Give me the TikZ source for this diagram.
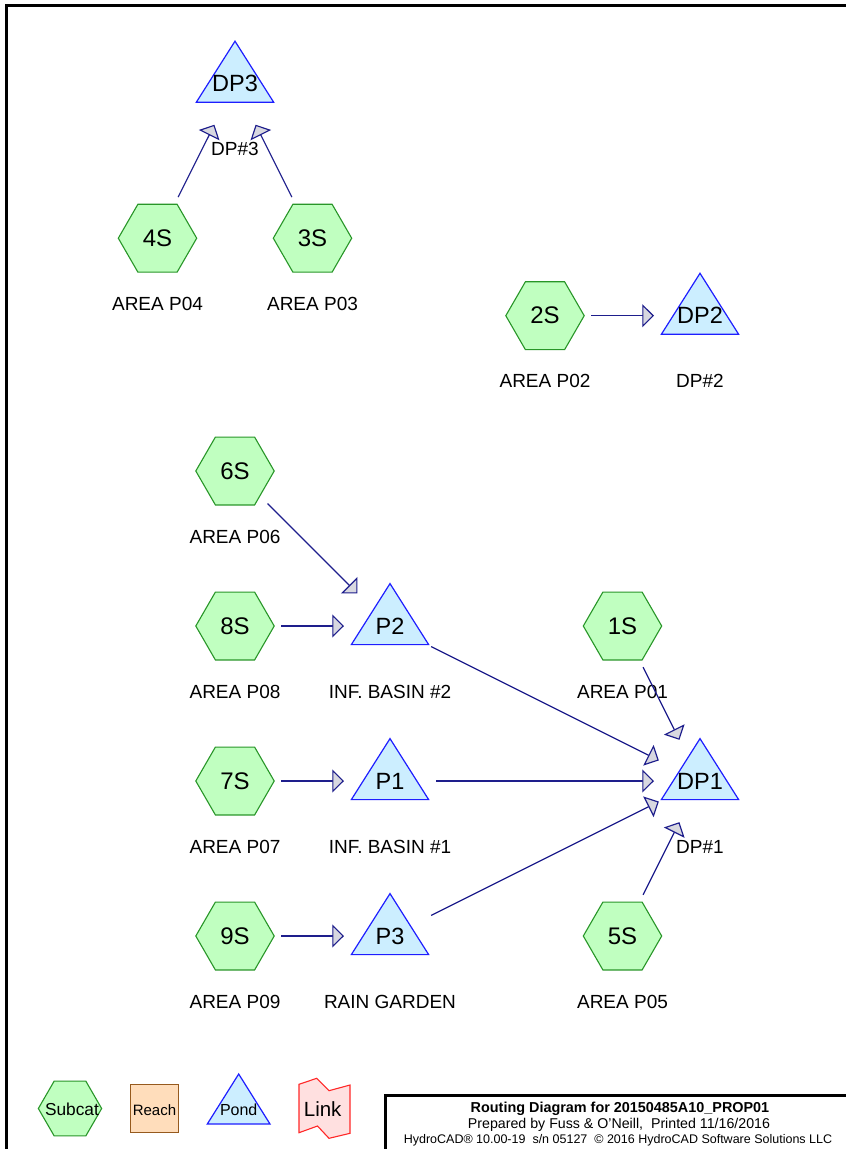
\documentclass[tikz,border=0pt]{standalone}
\usepackage{fontspec}
\setmainfont{Liberation Sans}
\usetikzlibrary{arrows.meta,shapes.geometric}
\definecolor{hexfill}{RGB}{192,255,192}
\definecolor{hexdraw}{RGB}{40,150,40}
\definecolor{pondfill}{RGB}{204,238,255}
\definecolor{ponddraw}{RGB}{30,30,255}
\definecolor{reachfill}{RGB}{255,221,187}
\definecolor{reachdraw}{RGB}{150,90,30}
\definecolor{linkfill}{RGB}{255,224,224}
\definecolor{linkdraw}{RGB}{255,40,40}
\definecolor{flowcol}{RGB}{30,30,140}
\definecolor{tipfill}{RGB}{216,216,224}
\tikzset{
  hex/.style={regular polygon, regular polygon sides=6, minimum size=78.4pt,
    inner sep=0pt, outer sep=0pt, fill=hexfill, draw=hexdraw, line width=1.1pt,
    font=\fontsize{24}{28}\selectfont},
  pondshape/.style={fill=pondfill, draw=ponddraw, line width=1.2pt, line join=miter},
  pondtxt/.style={inner sep=0pt, font=\fontsize{23.5}{27}\selectfont},
  lbl/.style={anchor=base, inner sep=0pt, font=\fontsize{19}{22}\selectfont},
  flow/.style={draw=flowcol, line width=1.15pt, shorten <=46pt, shorten >=46pt,
    -{Triangle[length=11.7pt, width=23pt, fill=tipfill]}},
  pondtri/.pic={\draw[pondshape] (-38.65,18.6) -- (0,-42.4) -- (38.65,18.6) -- cycle;},
  frameline/.style={draw=black, line width=2.7pt},
}
\begin{document}
\begin{tikzpicture}[x=1pt,y=-1pt]
\useasboundingbox (0,0) rectangle (846,1149);
\clip (0,0) rectangle (846,1149);
\fill[white] (0,0) rectangle (846,1149);
% frame
\draw[frameline] (6.3,1160) -- (6.3,5.3) -- (870,5.3);

% subcatchments
\node[hex] (S4) at (157.5,238.2) {4S};
\node[hex] (S3) at (312.5,238.2) {3S};
\node[hex] (S2) at (545,315.7) {2S};
\node[hex] (S6) at (235,471) {6S};
\node[hex] (S8) at (235,626) {8S};
\node[hex] (S1) at (622.5,626) {1S};
\node[hex] (S7) at (235,781) {7S};
\node[hex] (S9) at (235,936) {9S};
\node[hex] (S5) at (622.5,936) {5S};

\node[lbl] (L4) at (157.5,310.2) {AREA P04};
\node[lbl] (L3) at (312.5,310.2) {AREA P03};
\node[lbl] (L2) at (545,387.7) {AREA P02};
\node[lbl] (L6) at (235,543) {AREA P06};
\node[lbl] (L8) at (235,698) {AREA P08};
\node[lbl] (L1) at (622.5,698) {AREA P01};
\node[lbl] (L7) at (235,853) {AREA P07};
\node[lbl] (L9) at (235,1008) {AREA P09};
\node[lbl] (L5) at (622.5,1008) {AREA P05};

% ponds
\pic at (235,83.6) {pondtri};
\node[pondtxt] (DP3) at (235,83.6) {DP3};
\pic at (700,315.7) {pondtri};
\node[pondtxt] (DP2) at (700,315.7) {DP2};
\pic at (390,626) {pondtri};
\node[pondtxt] (P2) at (390,626) {P2};
\pic at (390,781) {pondtri};
\node[pondtxt] (P1) at (390,781) {P1};
\pic at (390,936) {pondtri};
\node[pondtxt] (P3) at (390,936) {P3};
\pic at (700,781) {pondtri};
\node[pondtxt] (DP1) at (700,781) {DP1};

\node[lbl] (LDP3) at (235,155.6) {DP\#3};
\node[lbl] (LDP2) at (700,387.7) {DP\#2};
\node[lbl] (LP2) at (390,698) {INF. BASIN \#2};
\node[lbl] (LP1) at (390,853) {INF. BASIN \#1};
\node[lbl] (LP3) at (390,1008) {RAIN GARDEN};
\node[lbl] (LDP1) at (700,853) {DP\#1};

% connectors
\draw[flow] (S4.center) -- (DP3.center);
\draw[flow] (S3.center) -- (DP3.center);
\draw[flow] (S2.center) -- (DP2.center);
\draw[flow] (S6.center) -- (P2.center);
\draw[flow] (S8.center) -- (P2.center);
\draw[flow] (S7.center) -- (P1.center);
\draw[flow] (S9.center) -- (P3.center);
\draw[flow] (P2.center) -- (DP1.center);
\draw[flow] (P1.center) -- (DP1.center);
\draw[flow] (P3.center) -- (DP1.center);
\draw[flow] (S1.center) -- (DP1.center);
\draw[flow] (S5.center) -- (DP1.center);

% legend
\node[hex, minimum size=63.3pt] (legS) at (70,1108.5) {};
\node[anchor=base, inner sep=0pt, font=\fontsize{17.3}{20}\selectfont] (legStxt) at (72,1115.7) {Subcat};
\node[fill=reachfill, draw=reachdraw, line width=1.1pt, minimum width=47.6pt, minimum height=48pt, inner sep=0pt] (legR) at (154.5,1108.3) {};
\node[anchor=base, inner sep=0pt, font=\fontsize{15}{18}\selectfont] (legRtxt) at (154.5,1115.7) {Reach};
\draw[pondshape] (207.3,1124) -- (238.7,1074) -- (270,1124) -- cycle;
\node[anchor=base, inner sep=0pt, font=\fontsize{16}{19}\selectfont] (legPtxt) at (238.7,1115.7) {Pond};
\draw[fill=linkfill, draw=linkdraw, line width=1.1pt, line join=miter]
  (299,1084.3) -- (316.7,1078.3) -- (329,1090.7) -- (350,1085) -- (350,1133.3)
  -- (329,1138.3) -- (317.5,1126) -- (299,1132.7) -- cycle;
\node[anchor=base, inner sep=0pt, font=\fontsize{20.5}{24}\selectfont] (legLtxt) at (322.7,1116.7) {Link};

% title block
\draw[frameline] (385.7,1170) -- (385.7,1095.5) -- (870,1095.5);
\node[anchor=base, inner sep=0pt, font=\bfseries\fontsize{14.4}{17}\selectfont] (T1) at (620,1112.7) {Routing Diagram for 20150485A10\_PROP01};
\node[anchor=base, inner sep=0pt, font=\fontsize{14.2}{17}\selectfont] (T2) at (619,1128.5) {Prepared by Fuss \& O'Neill,\ \ Printed 11/16/2016};
\node[anchor=base, inner sep=0pt, font=\fontsize{12.5}{15}\selectfont] (T3) at (618,1143.3) {HydroCAD® 10.00-19\ \ s/n 05127\ \ © 2016 HydroCAD Software Solutions LLC};
\end{tikzpicture}
\end{document}
